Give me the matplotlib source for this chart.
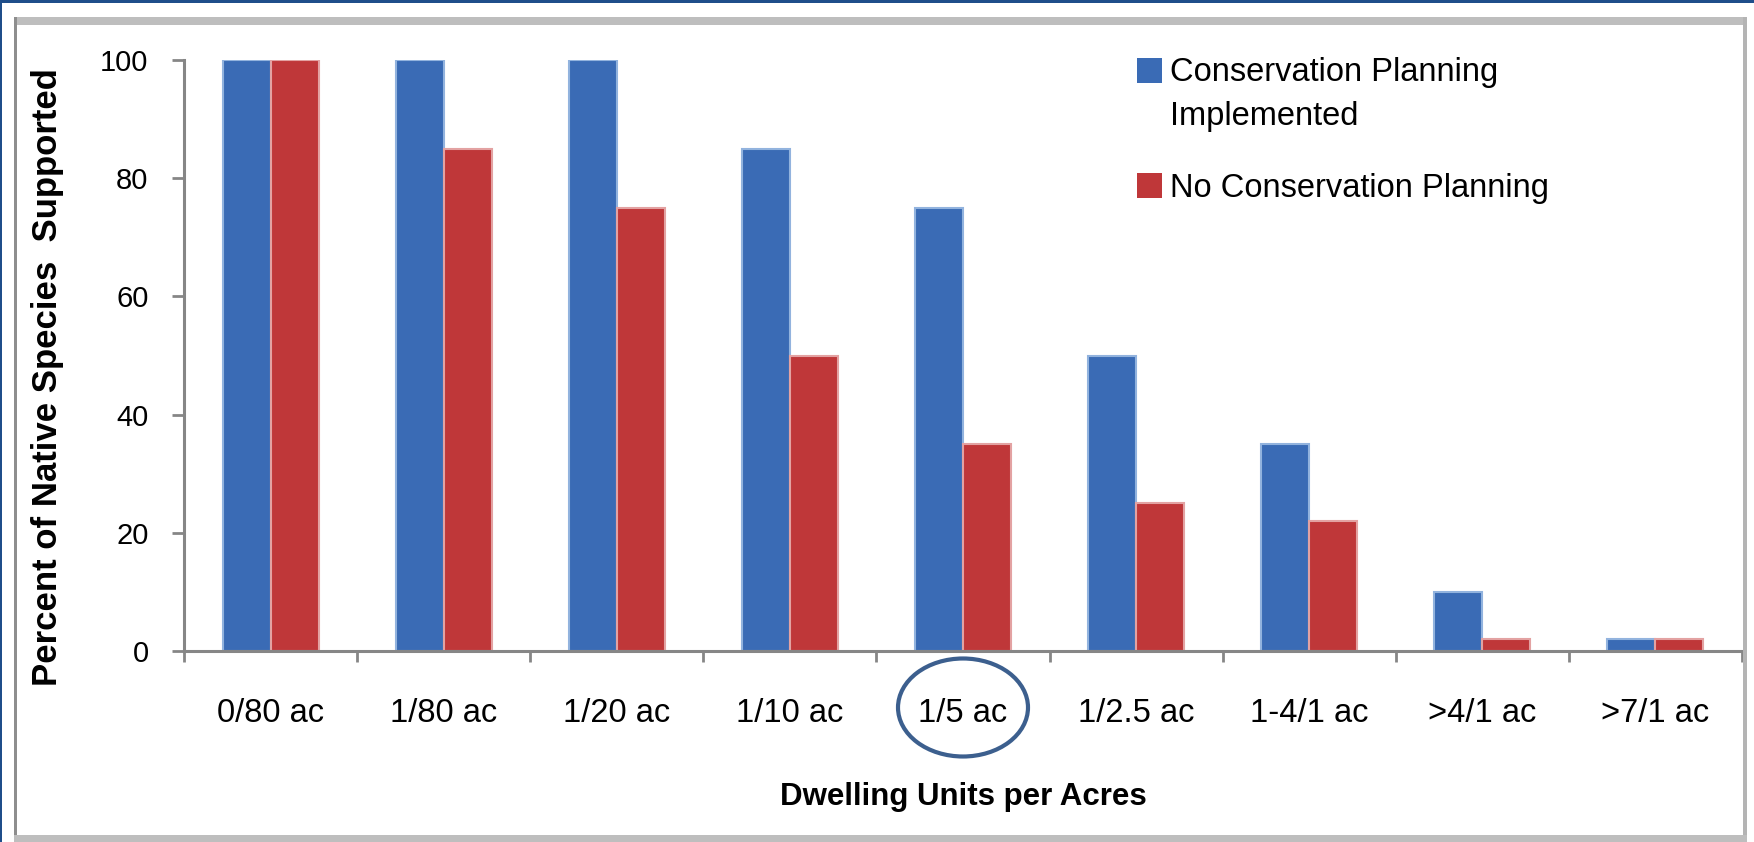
import matplotlib
matplotlib.use("Agg")
import matplotlib.pyplot as plt
import matplotlib.transforms as mtransforms
from matplotlib.patches import Rectangle, Ellipse
import numpy as np

categories = ["0/80 ac", "1/80 ac", "1/20 ac", "1/10 ac", "1/5 ac",
              "1/2.5 ac", "1-4/1 ac", ">4/1 ac", ">7/1 ac"]
conservation = [100, 100, 100, 85, 75, 50, 35, 10, 2]
no_conservation = [100, 85, 75, 50, 35, 25, 22, 2, 2]
yticks = [0, 20, 40, 60, 80, 100]
series_labels = ["Conservation Planning\nImplemented", "No Conservation Planning"]
xlabel = "Dwelling Units per Acres"
ylabel = "Percent of Native Species  Supported"
highlight = "1/5 ac"

W, H = 1754, 842
plt.rcParams['font.family'] = ['Liberation Sans', 'DejaVu Sans']
fig = plt.figure(figsize=(W / 100, H / 100), dpi=100)

# outer decoration (in pixel coords)
def px_rect(x0, y0, x1, y1, color):
    fig.patches.append(Rectangle((x0 / W, 1 - y1 / H), (x1 - x0) / W, (y1 - y0) / H,
                                 transform=fig.transFigure, color=color, lw=0, zorder=0))

px_rect(0, 0, W, 3, "#1F4E8A")
px_rect(0, 0, 2, H, "#1F4E8A")
px_rect(14, 17, 1747, 25, "#BEBEBE")
px_rect(14, 17, 17, 842, "#8E8E8E")
px_rect(1743, 17, 1747, 842, "#B4B4B4")
px_rect(14, 835, 1747, 842, "#BEBEBE")

ax_l, ax_r, ax_t, ax_b = 184, 1742, 60, 651
ax = fig.add_axes([ax_l / W, 1 - ax_b / H, (ax_r - ax_l) / W, (ax_b - ax_t) / H])

x = np.arange(len(categories))
bw = 0.277
ax.bar(x - bw / 2, conservation, bw, color="#3A6BB5", edgecolor="#92B3DE", linewidth=1.5,
       label=series_labels[0], zorder=2)
ax.bar(x + bw / 2, no_conservation, bw, color="#BF3739", edgecolor="#E3A2A2", linewidth=1.5,
       label=series_labels[1], zorder=2)

ax.set_xlim(-0.5, len(categories) - 0.5)
ax.set_ylim(0, 100)
for s in ["top", "right"]:
    ax.spines[s].set_visible(False)
for s in ["left", "bottom"]:
    ax.spines[s].set_color("#868686")
    ax.spines[s].set_linewidth(2.2)
    ax.spines[s].set_zorder(3)

ax.set_yticks(yticks)
ax.set_yticklabels([str(v) for v in yticks], fontsize=21)
ax.tick_params(axis="y", direction="out", length=8.5, width=2, color="#868686", pad=17)
ax.set_xticks(x)
ax.set_xticklabels(categories, fontsize=23.5)
ax.set_xticks(np.arange(-0.5, len(categories), 1.0), minor=True)
ax.tick_params(axis="x", which="major", length=0, pad=34)
ax.tick_params(axis="x", which="minor", direction="out", length=8, width=2, color="#868686")

ax.set_xlabel(xlabel, fontsize=22.5, fontweight="bold", labelpad=38)
ax.set_ylabel(ylabel, fontsize=25, fontweight="bold")
ax.yaxis.set_label_coords((64 - ax_l) / (ax_r - ax_l), (ax_b - 377) / (ax_b - ax_t))

# highlight ellipse around a category label
trans = mtransforms.blended_transform_factory(ax.transData, ax.transAxes)
idx = categories.index(highlight)
ell = Ellipse((idx, (ax_b - 707.5) / (ax_b - ax_t)), 130 / ((ax_r - ax_l) / len(categories)),
              98 / (ax_b - ax_t), transform=trans, fill=False, edgecolor="#3C5F8E",
              linewidth=3.0, clip_on=False, zorder=5)
ax.add_patch(ell)

# legend (manual, square aligned with first line)
colors = ["#3A6BB5", "#BF3739"]
centers = [70, 185]
for lab, c, yc in zip(series_labels, colors, centers):
    fig.patches.append(Rectangle((1137 / W, 1 - (yc + 12.5) / H), 25 / W, 25 / H,
                                 transform=fig.transFigure, color=c, lw=0))
    fig.text(1170 / W, 1 - (yc - 12.5) / H, lab, fontsize=23.5, va="top", ha="left",
             linespacing=1.5)

fig.savefig("out.png", dpi=100)
